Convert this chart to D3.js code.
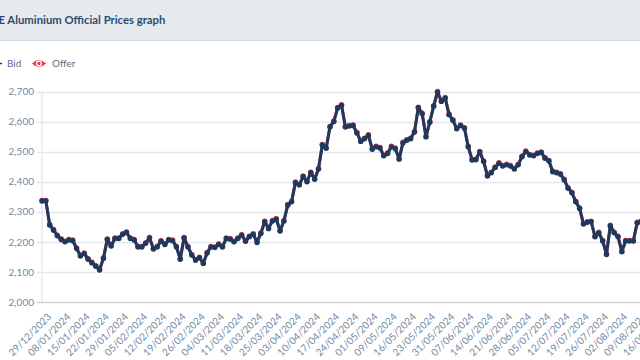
<!DOCTYPE html>
<html><head><meta charset="utf-8">
<script src="https://cdn.jsdelivr.net/npm/d3@7"></script>
<style>
html,body{margin:0;padding:0;background:#fff;overflow:hidden;}
svg{display:block;font-family:Lato,"Open Sans",sans-serif;}
</style></head>
<body>
<svg id="c" width="640" height="360"></svg>
<script>
const title = "LME Aluminium Official Prices graph";
const seriesNames = ["Bid", "Offer"];
const holidays = ["2024-01-01","2024-03-29","2024-04-01","2024-05-06","2024-05-27"];
const startDate = "2023-12-29", endDate = "2024-08-16";
const yTicks = [2000,2100,2200,2300,2400,2500,2600,2700];
const bid = [2336,2336,2256,2239,2220,2208,2200,2206,2204,2178,
2153,2161,2142,2130,2119,2106,2145,2208,2186,2211,
2211,2225,2231,2211,2206,2183,2183,2195,2213,2176,
2183,2202,2191,2206,2204,2183,2142,2213,2183,2156,
2139,2147,2128,2163,2183,2181,2191,2183,2211,2209,
2200,2211,2222,2202,2217,2225,2198,2228,2267,2244,
2269,2275,2236,2269,2322,2333,2397,2389,2417,2400,
2430,2408,2442,2522,2511,2582,2600,2645,2654,2582,
2585,2587,2562,2534,2543,2554,2508,2516,2512,2486,
2494,2516,2510,2475,2529,2538,2543,2565,2646,2626,
2549,2598,2651,2698,2667,2678,2623,2604,2576,2587,
2578,2516,2472,2473,2499,2467,2419,2430,2447,2461,
2452,2456,2452,2442,2456,2483,2500,2489,2486,2494,
2497,2478,2469,2433,2430,2425,2406,2378,2363,2333,
2311,2259,2265,2267,2217,2230,2203,2158,2253,2230,
2217,2167,2203,2203,2203,2263,2267];
const offer = [2338,2338,2258,2241,2222,2210,2202,2208,2206,2180,
2155,2163,2144,2132,2121,2108,2147,2210,2188,2213,
2213,2227,2233,2213,2208,2185,2185,2197,2215,2178,
2185,2204,2193,2208,2206,2185,2144,2215,2185,2158,
2141,2149,2130,2165,2185,2183,2193,2185,2213,2211,
2202,2213,2224,2204,2219,2227,2200,2230,2269,2246,
2271,2277,2238,2271,2324,2335,2399,2391,2419,2402,
2432,2410,2444,2524,2513,2584,2602,2647,2656,2584,
2587,2589,2564,2536,2545,2556,2510,2518,2514,2488,
2496,2518,2512,2477,2531,2540,2545,2567,2648,2628,
2551,2600,2653,2700,2669,2680,2625,2606,2578,2589,
2580,2518,2474,2475,2501,2469,2421,2432,2449,2463,
2454,2458,2454,2444,2458,2485,2502,2491,2488,2496,
2499,2480,2471,2435,2432,2427,2408,2380,2365,2335,
2313,2261,2267,2269,2219,2232,2205,2160,2255,2232,
2219,2169,2205,2205,2205,2265,2269];

// trading-day categories
const fmtISO = d3.timeFormat("%Y-%m-%d"), fmtLab = d3.timeFormat("%d/%m/%Y");
const parse = d3.timeParse("%Y-%m-%d");
const days = d3.timeDay.range(parse(startDate), d3.timeDay.offset(parse(endDate),1))
  .filter(d => d.getDay() !== 0 && d.getDay() !== 6 && !holidays.includes(fmtISO(d)))
  .map(fmtLab);

const svg = d3.select("#c");
// header
svg.append("rect").attr("x",0).attr("y",0).attr("width",640).attr("height",40).attr("fill","#e6eaef");
svg.append("line").attr("x1",0).attr("x2",640).attr("y1",40.5).attr("y2",40.5).attr("stroke","#d3d9e0");
const tfs = 11.3;
const t = svg.append("text").attr("y",23.5).attr("fill","#2c4a6d").attr("font-weight","bold").attr("font-size",tfs).text(title);
const tmp = svg.append("text").attr("font-weight","bold").attr("font-size",tfs).text("LM");
const w = tmp.node().getComputedTextLength(); tmp.remove();
t.attr("x", -w - 1.5);

// legend
const lg = svg.append("g").attr("font-size",10).attr("fill","#5d6e80");
lg.append("line").attr("x1",-8).attr("x2",2).attr("y1",63.5).attr("y2",63.5).attr("stroke","#1f3b5e").attr("stroke-width",1.5);
lg.append("text").attr("x",7).attr("y",67).text(seriesNames[0]);
const eye = lg.append("g").attr("transform","translate(39,63.5)");
eye.append("path").attr("d","M-7,0 Q0,-7 7,0 Q0,7 -7,0Z").attr("fill","#e8384f");
eye.append("circle").attr("r",3).attr("fill","#fff");
eye.append("circle").attr("r",1.7).attr("fill","#e8384f");
lg.append("text").attr("x",52).attr("y",67).text(seriesNames[1]);

// scales
const x = d3.scalePoint().domain(days).range([42, 42 + (days.length-1)*3.84]);
const y = d3.scaleLinear().domain([2000,2700]).range([302,91.5]);

// grid + y axis
const ya = svg.append("g").attr("transform","translate(37,0)")
  .call(d3.axisLeft(y).tickValues(yTicks).tickSize(0).tickPadding(3).tickFormat(d3.format(",")));
ya.select(".domain").remove();
ya.selectAll("text").attr("font-family","Lato,sans-serif").attr("font-size",10).attr("fill","#7189a7");
svg.append("g").selectAll("line").data(yTicks.slice(1)).join("line")
  .attr("x1",37).attr("x2",640).attr("y1",d=>Math.round(y(d))+0.5).attr("y2",d=>Math.round(y(d))+0.5)
  .attr("stroke","#e4e8ed").attr("stroke-width",1.3);
svg.append("line").attr("x1",42).attr("x2",42).attr("y1",91).attr("y2",302).attr("stroke","#e6e9ee").attr("stroke-width",1.5);

// x axis
const tickDays = days.filter((d,i)=> i % 5 === 0);
const xa = svg.append("g").attr("transform","translate(0,302)")
  .call(d3.axisBottom(x).tickValues(tickDays).tickSize(0).tickPadding(0));
xa.select(".domain").attr("d","M37,0.5H640").attr("stroke","#ccd5df").attr("stroke-width",1.3);
xa.selectAll("text").attr("font-family","Lato,sans-serif").attr("font-size",10).attr("fill","#7189a7")
  .attr("text-anchor","end").attr("dy","0.35em").attr("y",0)
  .attr("transform","translate(7,13) rotate(-45)");

// series
const plot = svg.append("g");
function drawSeries(vals, lineColor, dotColor){
  const pts = vals.map((v,i)=>[x(days[i]), y(v)]);
  plot.append("path").attr("d", d3.line()(pts)).attr("fill","none").attr("stroke",lineColor).attr("stroke-width",3).attr("stroke-linejoin","round");
  plot.append("g").selectAll("circle").data(pts).join("circle")
    .attr("cx",d=>d[0]).attr("cy",d=>d[1]).attr("r",2.7).attr("fill",dotColor);
}
drawSeries(offer, "#e8384f", "#e8384f");
drawSeries(bid, "#1d3a5e", "#1d3a5e");
</script>
</body></html>
